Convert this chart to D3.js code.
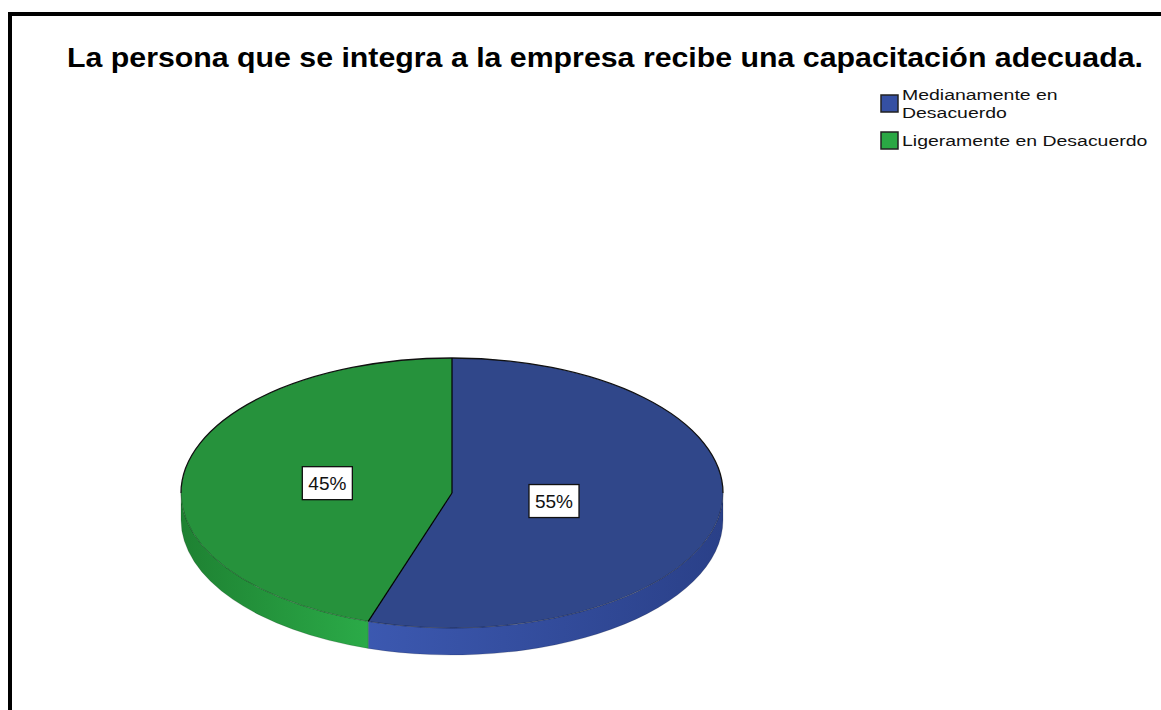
<!DOCTYPE html>
<html>
<head>
<meta charset="utf-8">
<script src="https://cdnjs.cloudflare.com/ajax/libs/d3/7.8.5/d3.min.js"></script>
<style>
  body { margin: 0; background: #fff; }
  text { font-family: "Liberation Sans", Arial, sans-serif; }
</style>
</head>
<body>
<script>
var width = 1161, height = 710;

// data
const titleText = 'La persona que se integra a la empresa recibe una capacitación adecuada.';
const categories = ['Medianamente en Desacuerdo', 'Ligeramente en Desacuerdo'];
const percentages = [55, 45];
const legendLines = [['Medianamente en', 'Desacuerdo'], ['Ligeramente en Desacuerdo']];
const topColors = ['#30478a', '#26923c'];
const swatchColors = ['#3550a3', '#2aa844'];
const sideColors = [['#3d5ab3', '#2a4088'], ['#1e8132', '#2bab48']];

var svg = d3.select('body').append('svg')
    .attr('width', width)
    .attr('height', height);

// frame (runs off right and bottom edges)
svg.append('rect')
    .attr('x', 10).attr('y', 14)
    .attr('width', 1200).attr('height', 800)
    .attr('fill', 'none')
    .attr('stroke', '#000')
    .attr('stroke-width', 4);

// title
svg.append('text')
    .attr('x', 67)
    .attr('y', 67)
    .attr('font-size', 28)
    .attr('font-weight', 'bold')
    .attr('textLength', 1076)
    .attr('lengthAdjust', 'spacingAndGlyphs')
    .text(titleText);

// pie geometry
const cx = 452, cy = 493, rx = 271, ry = 135, depth = 27;
const pt = (a, dy) => [cx + rx * Math.sin(a), cy - ry * Math.cos(a) + (dy || 0)];

const pie = d3.pie().sort(null).startAngle(0).endAngle(2 * Math.PI);
const arcs = pie(percentages);

const defs = svg.append('defs');
sideColors.forEach((c, i) => {
    const grad = defs.append('linearGradient')
        .attr('id', 'side' + i)
        .attr('gradientUnits', 'userSpaceOnUse')
        .attr('x1', cx - rx).attr('x2', cx + rx)
        .attr('y1', 0).attr('y2', 0);
    if (i === 0) {
        grad.append('stop').attr('offset', '0.3').attr('stop-color', c[0]);
        grad.append('stop').attr('offset', '1').attr('stop-color', c[1]);
    } else {
        grad.append('stop').attr('offset', '0').attr('stop-color', c[0]);
        grad.append('stop').attr('offset', '0.35').attr('stop-color', c[1]);
    }
});

const g = svg.append('g');

// side walls (front half only)
arcs.forEach((d, i) => {
    const s = Math.max(d.startAngle, Math.PI / 2);
    const e = Math.min(d.endAngle, 3 * Math.PI / 2);
    if (s >= e) return;
    const p0 = pt(s), p1 = pt(e), p2 = pt(e, depth), p3 = pt(s, depth);
    const path = `M${p0} A${rx},${ry} 0 0 1 ${p1} L${p2} A${rx},${ry} 0 0 0 ${p3} Z`;
    g.append('path')
        .attr('d', path)
        .attr('fill', `url(#side${i})`)
        .attr('stroke', 'rgba(0,0,0,0.25)')
        .attr('stroke-width', 0.6);
});

// top faces
arcs.forEach((d, i) => {
    const p0 = pt(d.startAngle), p1 = pt(d.endAngle);
    const large = (d.endAngle - d.startAngle) > Math.PI ? 1 : 0;
    g.append('path')
        .attr('d', `M${cx},${cy} L${p0} A${rx},${ry} 0 ${large} 1 ${p1} Z`)
        .attr('fill', topColors[i]);
});

// back rim outline
const b0 = pt(3 * Math.PI / 2), b1 = pt(Math.PI / 2);
g.append('path')
    .attr('d', `M${b0} A${rx},${ry} 0 0 1 ${b1}`)
    .attr('fill', 'none')
    .attr('stroke', '#111')
    .attr('stroke-width', 1.3);
// front rim (faint)
g.append('path')
    .attr('d', `M${b1} A${rx},${ry} 0 0 1 ${b0}`)
    .attr('fill', 'none')
    .attr('stroke', 'rgba(0,0,0,0.35)')
    .attr('stroke-width', 0.8);

// slice dividers
arcs.forEach(d => {
    const p = pt(d.startAngle);
    g.append('line')
        .attr('x1', cx).attr('y1', cy)
        .attr('x2', p[0]).attr('y2', p[1])
        .attr('stroke', '#000')
        .attr('stroke-width', 1.2);
});

// percentage labels at slice centroids
arcs.forEach((d, i) => {
    const th = d.endAngle - d.startAngle;
    const f = 4 * Math.sin(th / 2) / (3 * th);
    const m = (d.startAngle + d.endAngle) / 2;
    const x = cx + f * rx * Math.sin(m), y = cy - f * ry * Math.cos(m);
    const lg = g.append('g').attr('transform', `translate(${x},${y})`);
    const box = lg.append('rect');
    const t = lg.append('text')
        .attr('text-anchor', 'middle')
        .attr('dy', '0.36em')
        .attr('font-size', 19)
        .attr('fill', '#111')
        .text(d3.format('.0f')(percentages[i]) + '%');
    const w = t.node().getComputedTextLength() + 12;
    box.attr('x', -w / 2).attr('y', -16.5)
        .attr('width', w).attr('height', 33)
        .attr('fill', '#fff')
        .attr('stroke', '#111')
        .attr('stroke-width', 1.3);
});

// legend: text block vertically centred on its swatch
const legend = svg.append('g').attr('transform', 'translate(880,94)');
const fs = 15.5, lh = 17.4;
let yOff = 0;
categories.forEach((c, i) => {
    legend.append('rect')
        .attr('x', 1).attr('y', yOff + 1)
        .attr('width', 17).attr('height', 17)
        .attr('fill', swatchColors[i])
        .attr('stroke', '#222')
        .attr('stroke-width', 1.5);
    const n = legendLines[i].length;
    const first = yOff + 9.5 + 0.36 * fs - (n - 1) * lh / 2;
    const tg = legend.append('g').attr('transform', `translate(22,0) scale(1.255,1)`);
    legendLines[i].forEach((line, j) => {
        tg.append('text')
            .attr('x', 0)
            .attr('y', first + j * lh)
            .attr('font-size', fs)
            .attr('fill', '#111')
            .text(line);
    });
    yOff += 37;
});
</script>
</body>
</html>
